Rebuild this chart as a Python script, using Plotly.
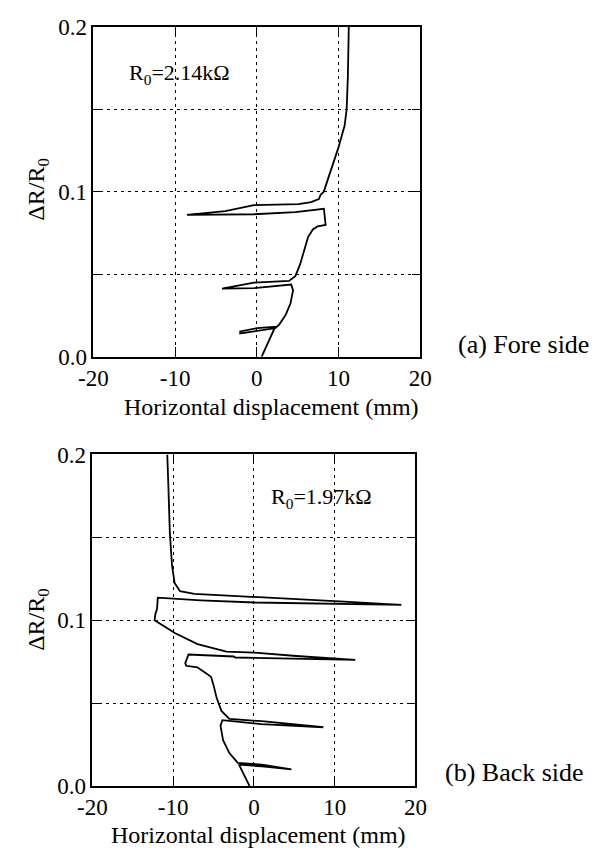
import plotly.graph_objects as go

# ---- Data: (a) Fore side ----
fore_x = [0.6, 2.2, 2.26, 0.04, -2.03, -2.03, 0.04, 2.26, 2.77, 3.55, 4.13, 4.44, 4.21,
          -0.35, -4.25, -0.35, 3.94, 4.72, 5.3, 5.89, 6.28, 6.86, 7.45, 8.42, 8.22,
          4.72, -0.35, -8.54, -3.86, -0.35, 5.1, 6.65, 7.6, 7.8, 8.2,
          9.98, 10.75, 11.0, 11.15, 11.26]
fore_y = [0.0, 0.0176, 0.0182, 0.0173, 0.0153, 0.0141, 0.0157, 0.0173, 0.0196, 0.0255, 0.0324, 0.0402, 0.0437,
          0.0416, 0.0412, 0.0449, 0.0459, 0.0488, 0.0559, 0.0657, 0.0725, 0.0771, 0.079, 0.0798, 0.0896,
          0.0876, 0.0863, 0.0859, 0.0882, 0.0918, 0.0925, 0.0937, 0.0955, 0.098, 0.1,
          0.1265, 0.140, 0.15, 0.17, 0.2]

# ---- Data: (b) Back side ----
back_x = [-0.55, -1.85, 1.0, 4.65, 1.0, -2.0, -3.04, -3.82, -4.14, -3.9,
          0.91, 8.6, 1.3, -3.04, -4.02, -4.61, -5.0, -5.3, -5.8, -7.0, -8.39, -8.5, -8.1,
          -6.8, -2.5, -2.3, 5.25, 12.55, 5.25, 0.1, -3.4, -6.98, -9.74, -12.3, -12.2, -12.0, -11.9,
          -6.6, 0.12, 18.26, 11.16, 0.12, -7.38, -9.15, -9.82, -10.14, -10.41, -10.6, -10.73]
back_y = [0.0, 0.0129, 0.0118, 0.0100, 0.0128, 0.0139, 0.0198, 0.0276, 0.0364, 0.0397,
          0.0373, 0.0354, 0.0389, 0.0405, 0.0452, 0.0530, 0.0608, 0.0657, 0.0676, 0.0716, 0.0725, 0.0741, 0.0793,
          0.0790, 0.0781, 0.0775, 0.0768, 0.0761, 0.0784, 0.0804, 0.081, 0.0856, 0.0921, 0.0999, 0.1038, 0.1067, 0.1136,
          0.112, 0.1107, 0.1093, 0.1112, 0.114, 0.1159, 0.1175, 0.1224, 0.1331, 0.1527, 0.182, 0.2]

x_ticks = [-20, -10, 0, 10, 20]
x_tick_labels = ["-20", "-10", "0", "10", "20"]
y_ticks = [0.0, 0.1, 0.2]
y_tick_labels = ["0.0", "0.1", "0.2"]

W, H = 609, 863
FONT = "Liberation Serif, Times New Roman, serif"

fig = go.Figure()
fig.add_trace(go.Scatter(x=fore_x, y=fore_y, mode="lines", xaxis="x", yaxis="y",
                         line=dict(color="black", width=1.8), showlegend=False))
fig.add_trace(go.Scatter(x=back_x, y=back_y, mode="lines", xaxis="x2", yaxis="y2",
                         line=dict(color="black", width=1.8), showlegend=False))

def xax(domain, anchor):
    return dict(domain=domain, anchor=anchor, range=[-20, 20], tickvals=x_ticks, ticktext=x_tick_labels,
                showline=True, linecolor="black", linewidth=1.5, mirror="allticks",
                ticks="inside", ticklen=10, tickcolor="black", tickwidth=1,
                showgrid=True, gridcolor="black", gridwidth=1, griddash="3px,4px",
                zeroline=False, tickfont=dict(family=FONT, size=23, color="black"))

def yax(domain, anchor):
    return dict(domain=domain, anchor=anchor, range=[0, 0.2], tickvals=y_ticks, ticktext=y_tick_labels,
                showline=True, linecolor="black", linewidth=1.5, mirror="allticks",
                ticks="inside", ticklen=10, tickcolor="black", tickwidth=1,
                showgrid=True, gridcolor="black", gridwidth=1, griddash="3px,4px",
                minor=dict(tickvals=[0.05, 0.15], ticks="inside", ticklen=8, tickcolor="black",
                           showgrid=True, gridcolor="black", gridwidth=1, griddash="3px,4px"),
                zeroline=False, tickfont=dict(family=FONT, size=23, color="black"))

fig.update_layout(
    width=W, height=H, margin=dict(l=0, r=0, t=0, b=0),
    paper_bgcolor="white", plot_bgcolor="white",
    xaxis=xax([82 / W, 424 / W], "y"),
    yaxis=yax([1 - 355 / H, 1 - 15 / H], "x"),
    xaxis2=xax([81 / W, 419 / W], "y2"),
    yaxis2=yax([1 - 797 / H, 1 - 455.7 / H], "x2"),
)

def ann(text, x, y, size, xanchor="left", yanchor="middle", angle=0):
    fig.add_annotation(text=text, x=x / W, y=1 - y / H, xref="paper", yref="paper",
                       xanchor=xanchor, yanchor=yanchor, showarrow=False, textangle=angle,
                       font=dict(family=FONT, size=size, color="black"))

ann("R<sub>0</sub>=2.14kΩ", 117, 64, 22)
ann("R<sub>0</sub>=1.97kΩ", 266, 501, 22)
ann("Horizontal displacement (mm)", 268, 407, 24, xanchor="center")
ann("Horizontal displacement (mm)", 255, 848, 24, xanchor="center")
ann("ΔR/R<sub>0</sub>", 24, 182, 24, xanchor="center", angle=-90)
ann("ΔR/R<sub>0</sub>", 24, 625, 24, xanchor="center", angle=-90)
ann("(a) Fore side", 461, 342, 26)
ann("(b) Back side", 448, 783, 26)

fig.write_html("out.html")
